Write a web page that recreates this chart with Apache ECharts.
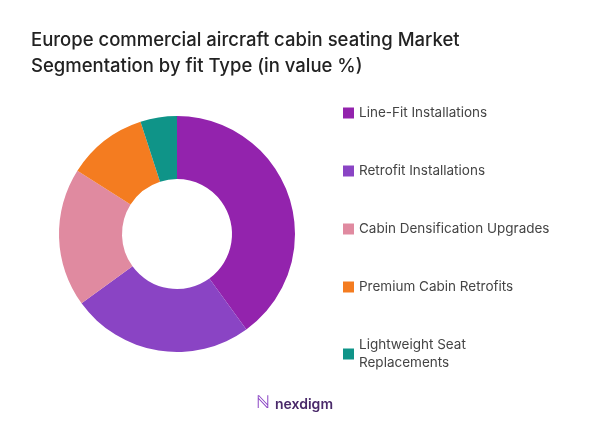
<!DOCTYPE html><html><head><meta charset="utf-8"><script src="https://cdn.jsdelivr.net/npm/echarts@6/dist/echarts.min.js"></script></head><body style="margin:0;background:#fff"><div id="c" style="width:589px;height:442px"></div><script>
const categories=["Line-Fit Installations","Retrofit Installations","Cabin Densification Upgrades","Premium Cabin Retrofits","Lightweight Seat\nReplacements"];
const values=[40,25,19,11,5];
const colors=["#9323ad","#8a44c4","#e08aa0","#f47c20","#0f9488"];
const ch=echarts.init(document.getElementById('c'));
ch.setOption({
title:{text:"Europe commercial aircraft cabin seating Market\nSegmentation by fit Type (in value %)",left:26,top:22,textStyle:{fontFamily:"Inter",fontSize:18.5,fontWeight:500,color:"#222",lineHeight:26}},
legend:{orient:"vertical",left:338,top:99,itemGap:40,itemWidth:11,itemHeight:11,icon:"rect",textStyle:{fontFamily:"Inter",fontSize:13.5,color:"#444",lineHeight:18},data:categories},
graphic:[{type:"text",left:275,top:398,style:{text:"nexdigm",fontFamily:"Inter",fontSize:14,fontWeight:600,fill:"#4a2a6a"}},{type:"text",left:256,top:394,style:{text:"ℕ",fontSize:18,fill:"#8a44c4"}}],
series:[{type:"pie",center:[177,234],radius:[55,118],startAngle:90,clockwise:true,label:{show:false},labelLine:{show:false},
data:categories.map((n,i)=>({name:n,value:values[i],itemStyle:{color:colors[i]}}))}]
});
</script></body></html>
